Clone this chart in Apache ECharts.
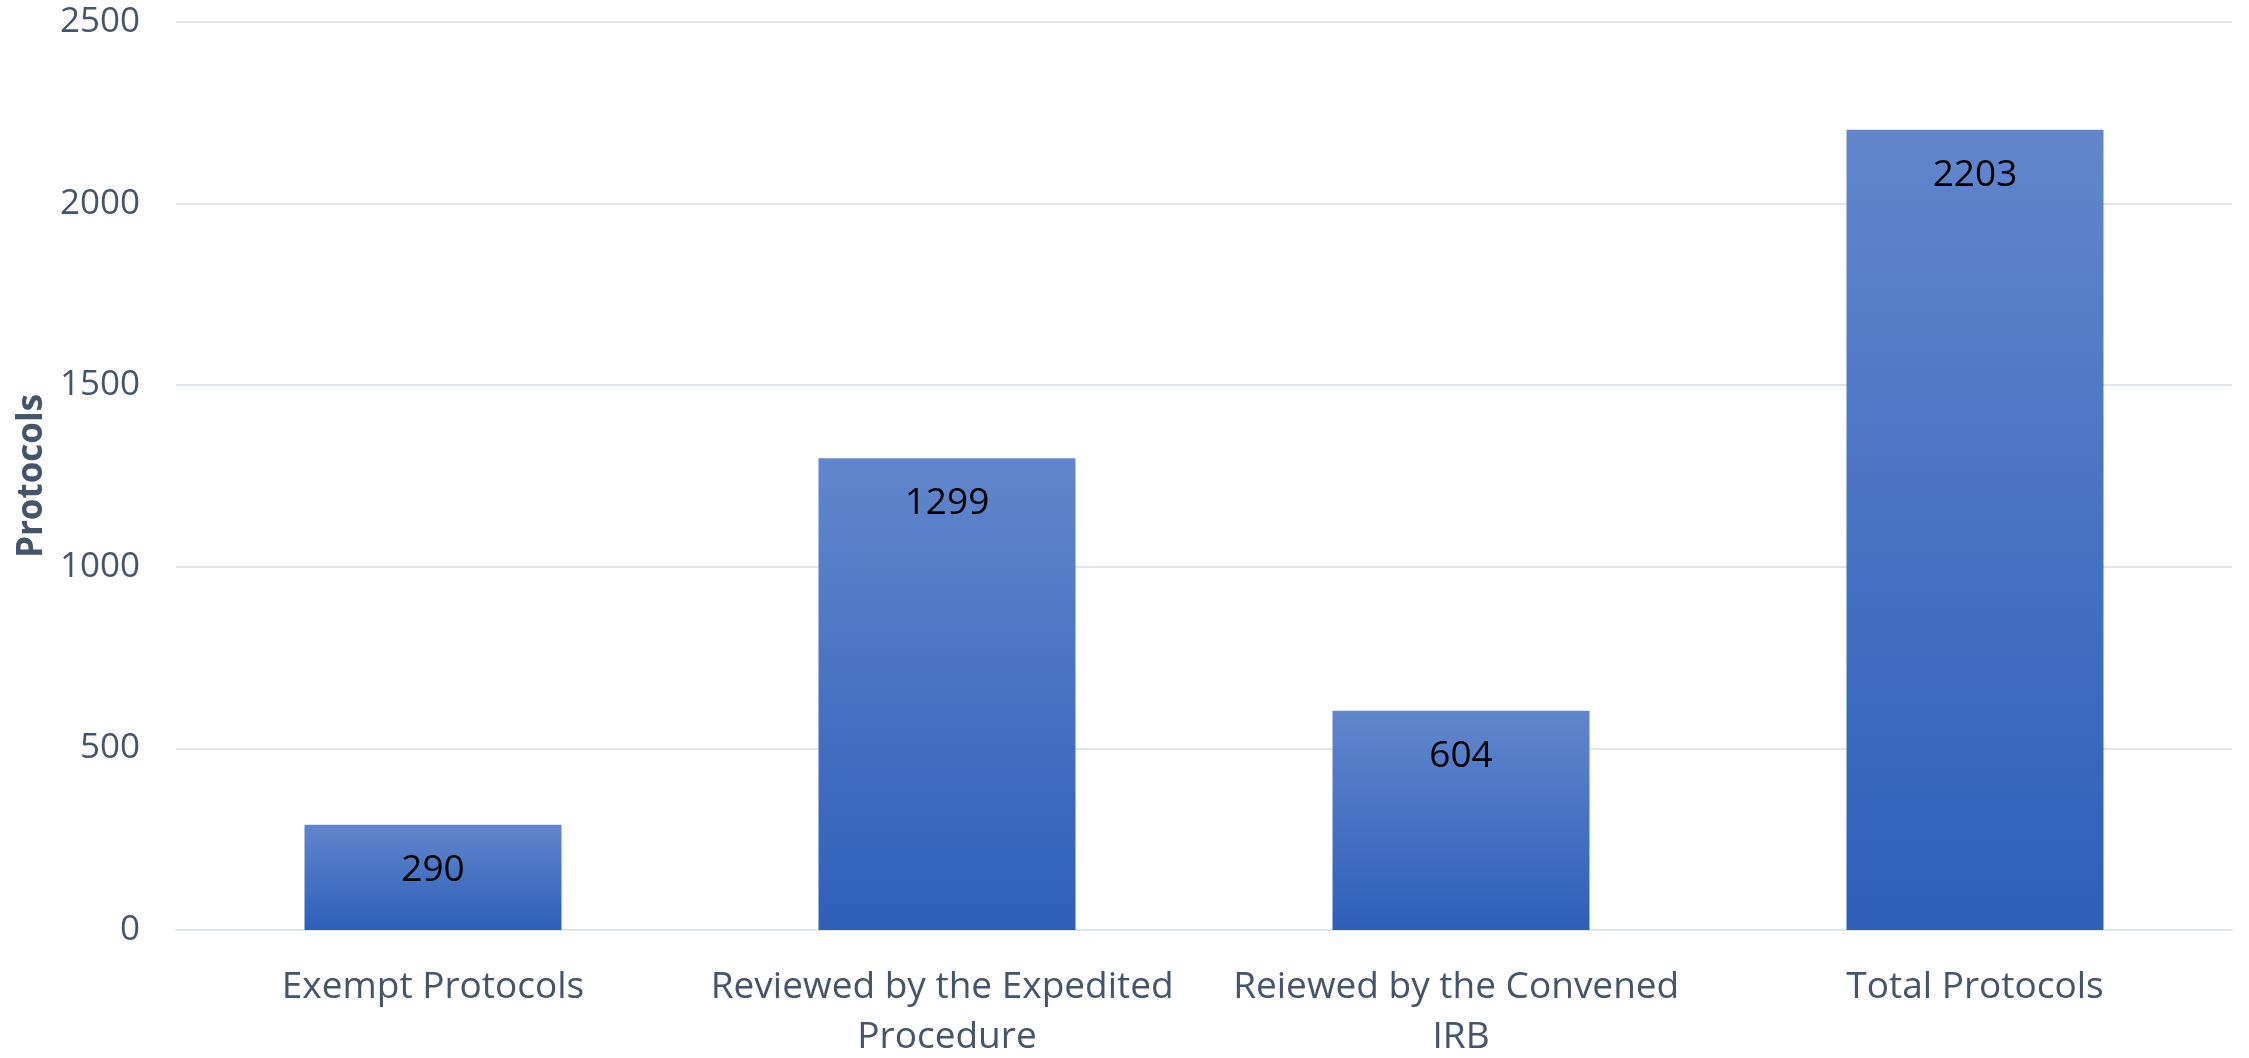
<!DOCTYPE html>
<html>
<head>
<meta charset="utf-8">
<script src="https://cdn.jsdelivr.net/npm/echarts@6/dist/echarts.min.js"></script>
<style>
html,body{margin:0;padding:0;background:#fff;}
#c{width:2249px;height:1058px;}
</style>
</head>
<body>
<div id="c"></div>
<script>
var categories = ["Exempt Protocols", "Reviewed by the Expedited Procedure", "Reiewed by the Convened IRB", "Total Protocols"];
var protocolCounts = [290, 1299, 604, 2203];
var yAxisTitle = "Protocols";
var yMin = 0, yMax = 2500, yInterval = 500;

var chart = echarts.init(document.getElementById('c'));
var textColor = '#44546A';
chart.setOption({
  animation: false,
  backgroundColor: '#ffffff',
  grid: {left: 176, right: 17, top: 22, bottom: 128, containLabel: false, outerBoundsMode: 'none'},
  xAxis: {
    type: 'category',
    data: categories,
    axisTick: {show: false},
    axisLine: {show: true, lineStyle: {color: '#E1E5EB', width: 2}},
    axisLabel: {
      color: textColor,
      fontFamily: 'Open Sans',
      fontSize: 37,
      lineHeight: 50,
      margin: 32,
      interval: 0,
      width: 500,
      overflow: 'break'
    }
  },
  yAxis: {
    type: 'value',
    min: yMin, max: yMax, interval: yInterval,
    name: yAxisTitle,
    nameLocation: 'middle',
    nameGap: 119,
    nameRotate: 90,
    nameTextStyle: {color: textColor, fontFamily: 'Open Sans', fontWeight: 'bold', fontSize: 35},
    axisLine: {show: false},
    axisTick: {show: false},
    splitLine: {lineStyle: {color: '#E1E5EB', width: 2}},
    axisLabel: {
      color: textColor, fontFamily: 'Open Sans', fontSize: 35, margin: 36,
      formatter: function (v) { return String(v); }
    }
  },
  series: [{
    type: 'bar',
    data: protocolCounts,
    barWidth: '50%',
    itemStyle: {
      color: new echarts.graphic.LinearGradient(0, 0, 0, 1, [
        {offset: 0, color: '#6186CC'},
        {offset: 1, color: '#2E5FB9'}
      ])
    },
    label: {
      show: true,
      position: 'insideTop',
      distance: 27,
      color: '#000000',
      fontFamily: 'Open Sans',
      fontSize: 37
    }
  }]
});
</script>
</body>
</html>
